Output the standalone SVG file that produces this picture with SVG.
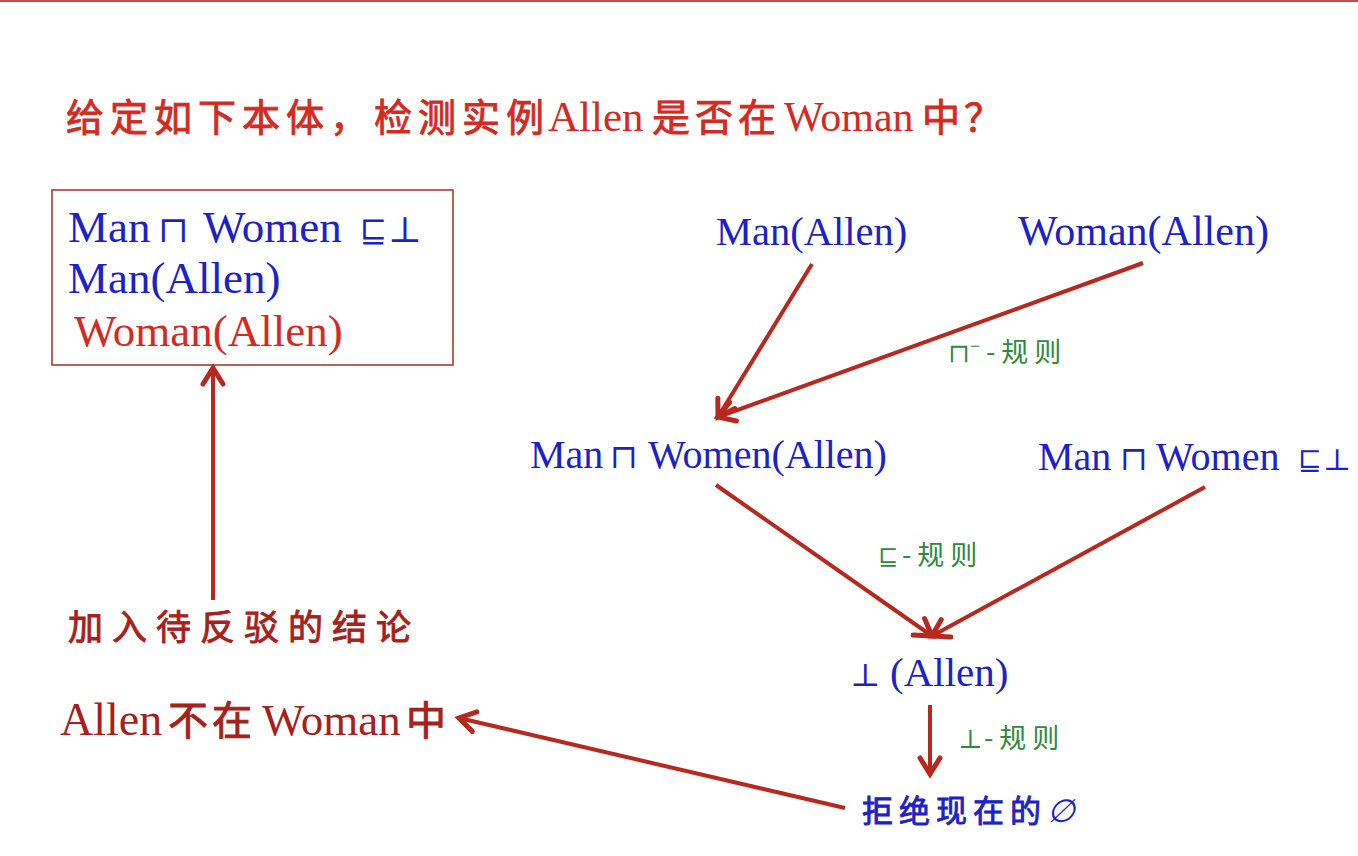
<svg xmlns="http://www.w3.org/2000/svg" width="1358" height="856" viewBox="0 0 1358 856">
<defs>
<style>
.lat{font-family:"Liberation Serif","DejaVu Serif",serif;}
.sym{font-family:"DejaVu Serif","Liberation Serif",serif;}
.cjk{font-family:"Noto Sans CJK SC","Noto Sans CJK JP",sans-serif;}
.heavy{stroke-width:0.9;}
.blue{fill:#1a22c8;}
.red{fill:#d42a22;}
.dred{fill:#a8201a;}
.green{fill:#2e8a3c;}
.conn{stroke:#b8281f;stroke-width:4;fill:none;marker-end:url(#arr);}
</style>
<marker id="arr" markerUnits="userSpaceOnUse" markerWidth="30" markerHeight="30" viewBox="0 0 30 30" refX="22" refY="15" orient="auto">
<path d="M6,5 L22,15 L6,25" fill="none" stroke="#b8281f" stroke-width="5" stroke-linecap="round" stroke-linejoin="miter"/>
</marker>
</defs>
<rect width="1358" height="856" fill="#ffffff"/>
<line x1="0" y1="1" x2="1358" y2="1" stroke="#c05050" stroke-width="2"/>

<g id="title">
<text y="131" class="red"><tspan class="cjk heavy" stroke="#d42a22" x="66" font-size="38" letter-spacing="6">给定如下本体，检测实例</tspan><tspan class="lat" x="548" font-size="43">Allen</tspan><tspan class="cjk heavy" stroke="#d42a22" x="652" font-size="38" letter-spacing="5">是否在</tspan><tspan class="lat" x="784" font-size="42">Woman</tspan><tspan class="cjk heavy" stroke="#d42a22" x="922" font-size="38" letter-spacing="4">中？</tspan></text>
</g>

<g id="kb">
<rect x="52" y="190" width="401" height="175" fill="none" stroke="#b03a30" stroke-width="1.6"/>
<text class="lat blue" y="242" font-size="45"><tspan x="68">Man</tspan><tspan class="sym" x="158" font-size="36">⊓</tspan><tspan x="203">Women</tspan><tspan class="sym" x="360" font-size="32">⊑</tspan><tspan class="sym" x="388" font-size="36">⊥</tspan></text>
<text class="lat blue" x="68" y="293" font-size="45">Man(Allen)</text>
<text class="lat red" x="74" y="346" font-size="45">Woman(Allen)</text>
</g>

<g id="add-label">
<text class="cjk dred heavy" stroke="#a8201a" x="68" y="640" font-size="35" letter-spacing="9">加入待反驳的结论</text>
</g>

<g id="conclusion">
<text y="735" class="dred"><tspan class="lat" x="60" font-size="46">Allen</tspan><tspan class="cjk heavy" stroke="#a8201a" x="168" font-size="40" letter-spacing="4">不在</tspan><tspan class="lat" x="262" font-size="45">Woman</tspan><tspan class="cjk heavy" stroke="#a8201a" x="406" font-size="40">中</tspan></text>
</g>

<g id="man-allen">
<text class="lat blue" x="716" y="245" font-size="40.5">Man(Allen)</text>
</g>
<g id="woman-allen">
<text class="lat blue" x="1018" y="245" font-size="42">Woman(Allen)</text>
</g>
<g id="man-and-women-allen">
<text class="lat blue" y="468" font-size="40"><tspan x="530">Man</tspan><tspan class="sym" x="610" font-size="33">⊓</tspan><tspan x="648">Women(Allen)</tspan></text>
</g>
<g id="axiom">
<text class="lat blue" y="470" font-size="40"><tspan x="1038">Man</tspan><tspan class="sym" x="1120" font-size="33">⊓</tspan><tspan x="1156">Women</tspan><tspan class="sym" x="1298" font-size="28">⊑</tspan><tspan class="sym" x="1323" font-size="30">⊥</tspan></text>
</g>
<g id="bottom-allen">
<text class="lat blue" y="686" font-size="41"><tspan class="sym" x="850" font-size="32">⊥</tspan><tspan x="890">(Allen)</tspan></text>
</g>
<g id="reject">
<text class="cjk blue" x="862" y="822" font-size="31" letter-spacing="6"><tspan class="heavy" stroke="#1a22c8">拒绝现在的</tspan><tspan class="sym" font-size="32" font-style="italic">∅</tspan></text>
</g>

<g id="rule-labels">
<text class="green" y="362" font-size="27"><tspan class="sym" x="948" font-size="26">⊓</tspan><tspan class="lat" x="970" dy="-10" font-size="18">−</tspan><tspan class="cjk" x="986" dy="10" letter-spacing="6">-规则</tspan></text>
<text class="green" y="565" font-size="27"><tspan class="sym" x="878" font-size="24">⊑</tspan><tspan class="cjk" x="902" letter-spacing="6">-规则</tspan></text>
<text class="green" y="748" font-size="27"><tspan class="sym" x="958" font-size="26">⊥</tspan><tspan class="cjk" x="984" letter-spacing="6">-规则</tspan></text>
</g>

<g id="connectors">
<line class="conn" x1="812" y1="264" x2="718" y2="417"/>
<line class="conn" x1="1143" y1="263" x2="718" y2="417"/>
<line class="conn" x1="716" y1="485" x2="932" y2="636"/>
<line class="conn" x1="1205" y1="487" x2="932" y2="636"/>
<line class="conn" x1="930" y1="705" x2="930" y2="774"/>
<line class="conn" x1="845" y1="808" x2="459" y2="718"/>
<line class="conn" x1="213" y1="600" x2="213" y2="368"/>
</g>
</svg>
